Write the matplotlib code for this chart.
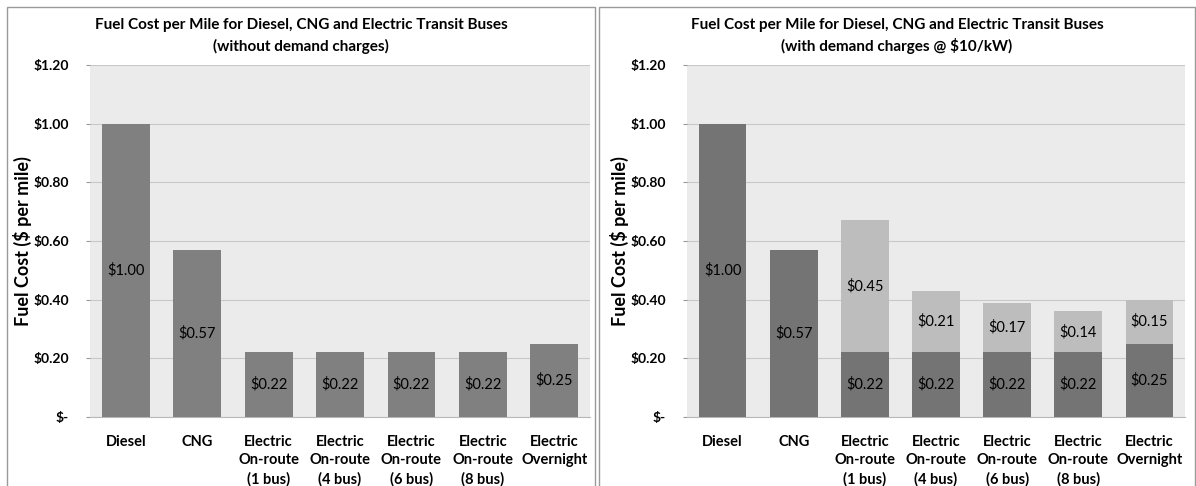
import matplotlib.pyplot as plt
from matplotlib.patches import Rectangle
import numpy as np

plt.rcParams['font.family'] = ['Lato', 'DejaVu Sans']

busTypes = ['Diesel', 'CNG', 'Electric\nOn-route\n(1 bus)', 'Electric\nOn-route\n(4 bus)',
            'Electric\nOn-route\n(6 bus)', 'Electric\nOn-route\n(8 bus)', 'Electric\nOvernight']
energyCost = [1.00, 0.57, 0.22, 0.22, 0.22, 0.22, 0.25]
demandCost = [0.00, 0.00, 0.45, 0.21, 0.17, 0.14, 0.15]
yTicks = [0, 0.2, 0.4, 0.6, 0.8, 1.0, 1.2]
yTickLabels = ['$-', '$0.20', '$0.40', '$0.60', '$0.80', '$1.00', '$1.20']

lightGray = '#bdbdbd'
plotBg = '#ebebeb'

fig = plt.figure(figsize=(11.96, 4.86), dpi=100)

# chart borders
fig.patches.append(Rectangle((7/1196, -0.01), 588/1196, 1-7/486+0.01, transform=fig.transFigure,
                             fill=False, edgecolor='#9a9a9a', lw=1))
fig.patches.append(Rectangle((599/1196, -0.01), 596/1196, 1-7/486+0.01, transform=fig.transFigure,
                             fill=False, edgecolor='#9a9a9a', lw=1))

def draw_chart(ax, stacked, barColor):
      x = np.arange(len(busTypes))
      ax.set_facecolor(plotBg)
      ax.bar(x, energyCost, width=0.67, color=barColor, zorder=3)
      for i, v in enumerate(energyCost):
            ax.text(x[i], v/2, '$%.2f' % v, ha='center', va='center', fontsize=10.5, zorder=4)
      if stacked:
            for i, v in enumerate(demandCost):
                  if v > 0:
                        ax.bar(x[i], v, width=0.67, bottom=energyCost[i], color=lightGray, zorder=3)
                        ax.text(x[i], energyCost[i]+v/2, '$%.2f' % v, ha='center', va='center',
                                fontsize=10.5, zorder=4)
      ax.set_ylim(0, 1.2)
      ax.set_xlim(-0.5, len(busTypes)-0.5)
      ax.set_yticks(yTicks)
      ax.set_yticklabels(yTickLabels, fontweight='bold', fontsize=10)
      ax.set_xticks(x)
      ax.set_xticklabels(busTypes, fontweight='bold', fontsize=10.5, linespacing=1.4)
      ax.tick_params(axis='x', length=0, pad=13)
      ax.tick_params(axis='y', length=3, color='#999999', pad=12)
      ax.grid(axis='y', color='#c8c8c8', lw=0.8, zorder=1)
      for s in ['top', 'right', 'left']:
            ax.spines[s].set_visible(False)
      ax.spines['bottom'].set_color('#b8b8b8')
      ax.set_ylabel('Fuel Cost ($ per mile)', fontweight='bold', fontsize=13, va='center')
      ax.yaxis.set_label_coords(-0.136, 0.5)
      return ax

axL = fig.add_axes([90/1196, 1-417/486, 500/1196, 352/486])
draw_chart(axL, False, '#808080')
axR = fig.add_axes([687/1196, 1-417/486, 498/1196, 352/486])
draw_chart(axR, True, '#747474')

fig.text(301/1196, 1-36/486, 'Fuel Cost per Mile for Diesel, CNG and Electric Transit Buses\n(without demand charges)',
         ha='center', va='center', fontweight='bold', fontsize=11, linespacing=1.5)
fig.text(897/1196, 1-36/486, 'Fuel Cost per Mile for Diesel, CNG and Electric Transit Buses\n(with demand charges @ $10/kW)',
         ha='center', va='center', fontweight='bold', fontsize=11, linespacing=1.5)

plt.savefig('out.png', dpi=100)
